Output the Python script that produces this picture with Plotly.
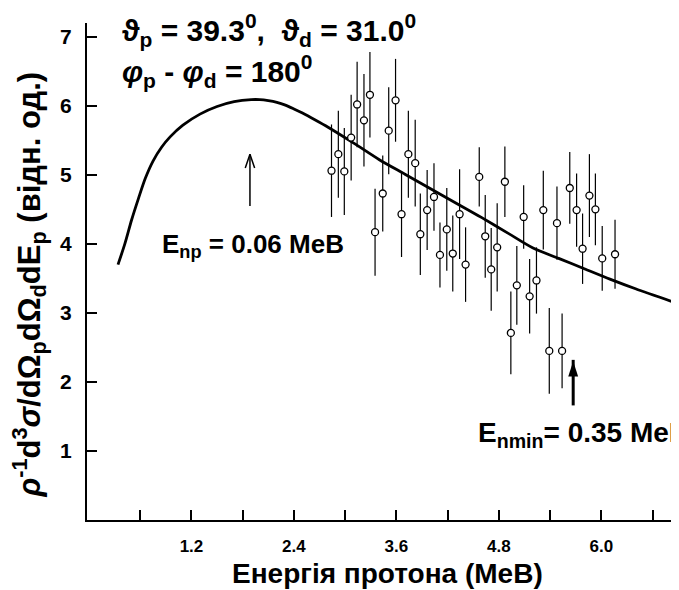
import plotly.graph_objects as go

# Theory curve
curve_x = [0.34, 0.42, 0.50, 0.58, 0.66, 0.75, 0.85, 0.95, 1.10, 1.30, 1.50, 1.70, 1.90,
           2.00, 2.10, 2.20, 2.30, 2.40, 2.50, 2.65, 2.80, 3.10, 3.40, 3.70, 4.00, 4.30,
           4.60, 4.90, 5.20, 5.50, 5.80, 6.10, 6.40, 6.91]
curve_y = [3.70, 4.00, 4.35, 4.66, 4.95, 5.20, 5.40, 5.55, 5.72, 5.88, 5.99, 6.06, 6.09,
           6.09, 6.075, 6.05, 6.01, 5.955, 5.895, 5.795, 5.69, 5.46, 5.22, 5.01, 4.80, 4.59,
           4.38, 4.16, 3.94, 3.79, 3.64, 3.49, 3.35, 3.13]

# Experimental points
data_x = [2.84, 2.92, 2.99, 3.07, 3.14, 3.22, 3.29, 3.35, 3.44, 3.51, 3.59, 3.66, 3.74,
          3.82, 3.88, 3.96, 4.04, 4.11, 4.19, 4.26, 4.34, 4.41, 4.57, 4.64, 4.71, 4.78,
          4.87, 4.94, 5.01, 5.09, 5.16, 5.24, 5.32, 5.39, 5.48, 5.54, 5.63, 5.71, 5.78,
          5.86, 5.93, 6.01, 6.16]
data_y = [5.06, 5.30, 5.05, 5.54, 6.02, 5.79, 6.16, 4.17, 4.73, 5.64, 6.08, 4.43, 5.30,
          5.17, 4.14, 4.49, 4.68, 3.84, 4.21, 3.86, 4.43, 3.70, 4.97, 4.11, 3.63, 3.95,
          4.90, 2.71, 3.40, 4.39, 3.24, 3.47, 4.49, 2.45, 4.30, 2.45, 4.81, 4.49, 3.93,
          4.70, 4.50, 3.79, 3.85]
data_err = [0.67, 0.63, 0.63, 0.62, 0.62, 0.67, 0.62, 0.63, 0.55, 0.63, 0.60, 0.62, 0.63,
            0.63, 0.59, 0.58, 0.49, 0.47, 0.60, 0.55, 0.65, 0.54, 0.43, 0.60, 0.60, 0.64,
            0.51, 0.60, 0.57, 0.46, 0.54, 0.48, 0.57, 0.62, 0.53, 0.54, 0.52, 0.53, 0.51,
            0.60, 0.52, 0.47, 0.50]

x_tickvals = [1.2, 2.4, 3.6, 4.8, 6.0]
x_ticktext = ["1.2", "2.4", "3.6", "4.8", "6.0"]
x_minor_tickvals = [0.6, 1.8, 3.0, 4.2, 5.4, 6.6]
y_tickvals = [1, 2, 3, 4, 5, 6, 7]
y_ticktext = ["1", "2", "3", "4", "5", "6", "7"]

# arrows: (x, tail y, tip y)
arrow_np = (1.885, 4.55, 5.30)
arrow_nmin = (5.67, 1.66, 2.42)

FONT = "Liberation Sans, Arial, sans-serif"

fig = go.Figure()
fig.add_trace(go.Scatter(x=curve_x, y=curve_y, mode="lines",
                         line=dict(color="black", width=2.8, shape="spline", smoothing=0.8),
                         hoverinfo="skip"))
fig.add_trace(go.Scatter(x=data_x, y=data_y, mode="markers",
                         marker=dict(symbol="circle", size=7, color="white",
                                     line=dict(color="black", width=1.3)),
                         error_y=dict(type="data", array=data_err, visible=True,
                                      color="black", thickness=1.2, width=0)))

# thin open arrow (E_np)
ax_, ay0, ay1 = arrow_np
hx, hy = 0.055, 0.20
fig.add_trace(go.Scatter(x=[ax_, ax_, None, ax_ - hx, ax_, ax_ + hx],
                         y=[ay0, ay1, None, ay1 - hy, ay1, ay1 - hy],
                         mode="lines", line=dict(color="black", width=1.5),
                         hoverinfo="skip"))
# thick filled arrow (E_nmin)
bx, by0, by1 = arrow_nmin
fig.add_trace(go.Scatter(x=[bx, bx], y=[by0, by1 - 0.1], mode="lines",
                         line=dict(color="black", width=3), hoverinfo="skip"))
fig.add_trace(go.Scatter(x=[bx], y=[by1 - 0.12], mode="markers",
                         marker=dict(symbol="arrow", size=16, color="black", angle=0,
                                     line=dict(width=0)),
                         hoverinfo="skip"))

ann = []
ann.append(dict(x=0.36, y=7.10, xref="x", yref="y", xanchor="left", yanchor="middle",
                showarrow=False,
                text="<b>ϑ<sub>p</sub> = 39.3<sup>0</sup>,  ϑ<sub>d</sub> = 31.0<sup>0</sup></b>",
                font=dict(family=FONT, size=30, color="black")))
ann.append(dict(x=0.36, y=6.50, xref="x", yref="y", xanchor="left", yanchor="middle",
                showarrow=False,
                text="<b><i>φ</i><sub>p</sub> - <i>φ</i><sub>d</sub> = 180<sup>0</sup></b>",
                font=dict(family=FONT, size=30, color="black")))
ann.append(dict(x=0.83, y=3.98, xref="x", yref="y", xanchor="left", yanchor="middle",
                showarrow=False,
                text="<b>E<sub>np</sub> = 0.06 MeB</b>",
                font=dict(family=FONT, size=26, color="black")))
ann.append(dict(x=4.53, y=1.24, xref="x", yref="y", xanchor="left", yanchor="middle",
                showarrow=False,
                text="<b>E<sub>nmin</sub>= 0.35 MeB</b>",
                font=dict(family=FONT, size=28, color="black")))
# y axis title
ann.append(dict(x=-0.097, y=0.473, xref="paper", yref="paper", xanchor="center", yanchor="middle",
                showarrow=False, textangle=-90,
                text="<b><i>ρ</i><sup>-1</sup>d<sup>3</sup><i>σ</i>/dΩ<sub>p</sub>dΩ<sub>d</sub>dE<sub>p</sub> (відн. од.)</b>",
                font=dict(family=FONT, size=31, color="black")))
# x axis title
ann.append(dict(x=0.508, y=-0.108, xref="paper", yref="paper", xanchor="center", yanchor="middle",
                showarrow=False,
                text="<b>Енергія протона (MeB)</b>",
                font=dict(family=FONT, size=28, color="black")))

# page body has an 8px default margin; figure is sized/offset to compensate
fig.update_layout(
    width=671, height=582,
    margin=dict(l=79, r=0, t=15, b=70),
    paper_bgcolor="white", plot_bgcolor="white",
    showlegend=False,
    annotations=ann,
    font=dict(family=FONT, color="black"),
)
fig.update_xaxes(range=[-0.023, 6.909], showgrid=False, zeroline=False, automargin=False,
                 showline=True, linecolor="black", linewidth=2,
                 ticks="inside", ticklen=10, tickwidth=1.5, tickcolor="black",
                 tickvals=x_tickvals, ticktext=x_ticktext, ticklabelstandoff=10,
                 minor=dict(tickvals=x_minor_tickvals, ticks="inside", ticklen=10,
                            tickwidth=1.5, tickcolor="black", showgrid=False),
                 tickfont=dict(family=FONT, size=17, color="black", weight="bold"))
fig.update_yaxes(range=[0, 7.2], showgrid=False, zeroline=False, automargin=False,
                 showline=True, linecolor="black", linewidth=2,
                 ticks="inside", ticklen=10, tickwidth=1.5, tickcolor="black",
                 tickvals=y_tickvals, ticktext=y_ticktext, ticklabelstandoff=9,
                 tickfont=dict(family=FONT, size=21, color="black", weight="bold"))

fig.write_html("out.html")
